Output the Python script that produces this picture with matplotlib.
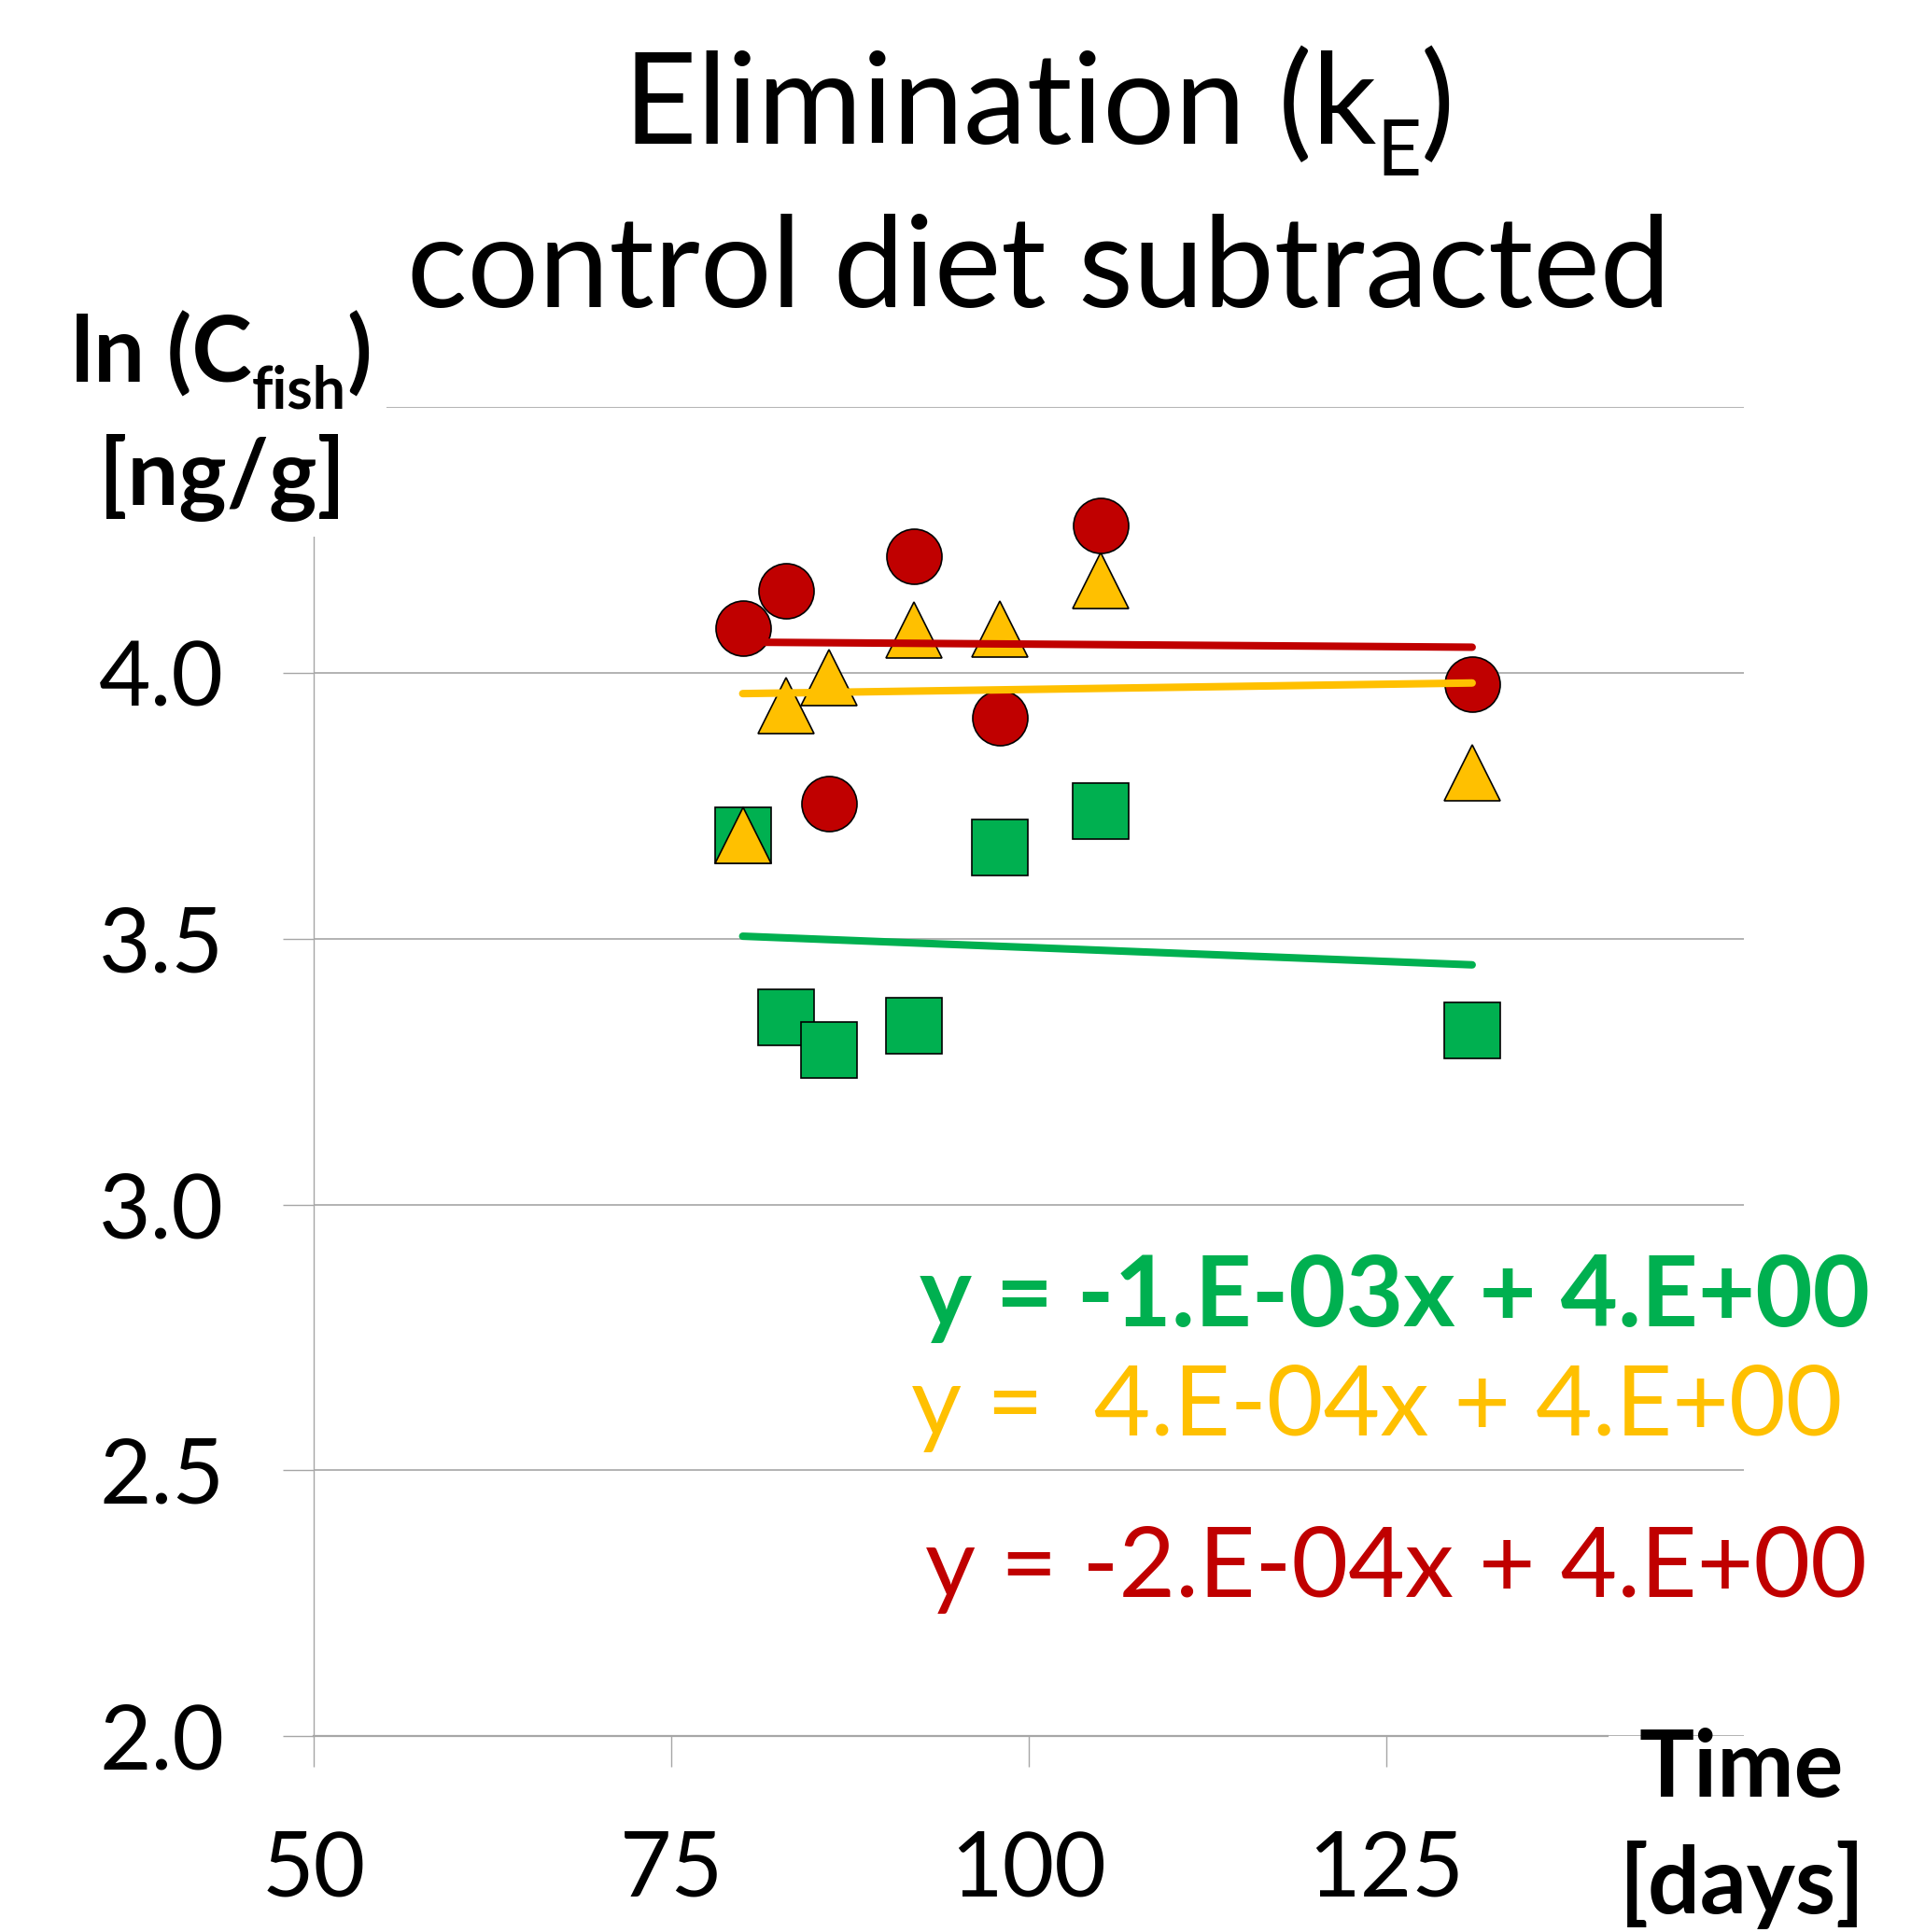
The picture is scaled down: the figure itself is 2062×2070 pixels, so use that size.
import numpy as np
import matplotlib
matplotlib.use("Agg")
import matplotlib.pyplot as plt
from matplotlib.patches import Rectangle

# ---------------- data ----------------
days = [80, 83, 86, 92, 98, 105, 131]
ln_c_green = [3.694, 3.352, 3.291, 3.337, 3.671, 3.740, 3.327]
ln_c_yellow = [3.695, 3.938, 3.991, 4.081, 4.082, 4.173, 3.813]
ln_c_red = [4.085, 4.154, 3.754, 4.219, 3.915, 4.278, 3.979]

eq_green = "y = -1.E-03x + 4.E+00"
eq_yellow = "y =  4.E-04x + 4.E+00"
eq_red = "y = -2.E-04x + 4.E+00"

x_ticks = [50, 75, 100, 125]
y_ticks = [2.0, 2.5, 3.0, 3.5, 4.0, 4.5]
y_tick_labels = ["2.0", "2.5", "3.0", "3.5", "4.0", ""]

title_line1 = ["Elimination (k", "E", ")"]
title_line2 = "control diet subtracted"
ylabel_line1 = ["ln (C", "fish", ")"]
ylabel_line2 = "[ng/g]"
xlabel_lines = ["Time", "[days]"]

# ---------------- style ----------------
plt.rcParams["font.family"] = ["Lato", "DejaVu Sans"]

GREEN = "#00B050"
YELLOW = "#FFC000"
RED = "#C00000"
GRID = "#a6a6a6"

W, H = 2062, 2070
fig = plt.figure(figsize=(W / 100, H / 100), dpi=100)
renderer = fig.canvas.get_renderer()

ax = fig.add_axes([336 / W, 1 - 1860.2 / H, (1868 - 336) / W, (1860.2 - 436.2) / H])
ax.set_xlim(50, 150)
ax.set_ylim(2.0, 4.5)

ax.set_xticks(x_ticks)
ax.set_xticklabels([str(t) for t in x_ticks])
ax.set_yticks(y_ticks)
ax.set_yticklabels(y_tick_labels)
ax.yaxis.grid(True, color=GRID, lw=1.2)
ax.set_axisbelow(True)

for s in ("top", "right"):
    ax.spines[s].set_visible(False)
ax.spines["left"].set_color(GRID)
ax.spines["left"].set_linewidth(1.0)
ax.spines["left"].set_bounds(2.0, 4.256)
ax.spines["bottom"].set_color(GRID)
ax.spines["bottom"].set_linewidth(1.6)
ax.spines["bottom"].set_bounds(50, 140.5)

ax.tick_params(axis="y", direction="out", length=24, width=1.0, color=GRID,
               pad=45, labelsize=69)
ax.tick_params(axis="x", direction="out", length=24, width=1.0, color=GRID,
               pad=48, labelsize=69)

MS = 42.5
ax.plot(days, ln_c_green, ls="none", marker="s", ms=MS, mfc=GREEN, mec="black",
        mew=1.2, zorder=3)
ax.plot(days, ln_c_yellow, ls="none", marker="^", ms=MS, mfc=YELLOW, mec="black",
        mew=1.2, zorder=3.1)
ax.plot(days, ln_c_red, ls="none", marker="o", ms=MS, mfc=RED, mec="black",
        mew=1.2, zorder=3.2)

for yv, col in ((ln_c_red, RED), (ln_c_yellow, YELLOW), (ln_c_green, GREEN)):
    k, b = np.polyfit(days, yv, 1)
    xs = np.array([min(days), max(days)], dtype=float)
    ax.plot(xs, k * xs + b, color=col, lw=5.8, solid_capstyle="round", zorder=5)

# white background of the y label (covers axis top, as in the original)
fig.add_artist(Rectangle((0, 1 - 575 / H), 414 / W, 575 / H, transform=fig.transFigure,
                         facecolor="white", edgecolor="none", zorder=1))


def compose(xc_px, base_px, parts, sizes, shifts, **kw):
    """Lay out text pieces (main / subscript / main) centred at xc_px."""
    objs = []
    widths = []
    for s, fs in zip(parts, sizes):
        t = fig.text(0, 0, s, fontsize=fs, ha="left", va="baseline", **kw)
        widths.append(t.get_window_extent(renderer).width)
        objs.append(t)
    x = xc_px - sum(widths) / 2
    for t, w, dy in zip(objs, widths, shifts):
        t.set_position((x / W, 1 - (base_px + dy) / H))
        x += w


# titles / labels
compose(1113, 154, title_line1, [98, 60, 98], [0, 34, 0])
fig.text(1113 / W, 1 - 329 / H, title_line2, ha="center", va="baseline", fontsize=97.3)

compose(237, 410, ylabel_line1, [70, 45, 70], [0, 27, 0], fontweight="bold")
fig.text(238 / W, 1 - 541 / H, ylabel_line2, ha="center", va="baseline",
         fontsize=70, fontweight="bold")

fig.text(1865 / W, 1 - 1925 / H, xlabel_lines[0], ha="center", va="baseline",
         fontsize=71, fontweight="bold")
fig.text(1866 / W, 1 - 2050 / H, xlabel_lines[1], ha="center", va="baseline",
         fontsize=71, fontweight="bold")

fig.text(985 / W, 1 - 1421 / H, eq_green, ha="left", va="baseline", fontsize=76.3,
         fontweight="bold", color=GREEN)
fig.text(976 / W, 1 - 1538 / H, eq_yellow, ha="left", va="baseline", fontsize=75.5,
         color=YELLOW)
fig.text(991 / W, 1 - 1711 / H, eq_red, ha="left", va="baseline", fontsize=75.4,
         color=RED)

fig.savefig("out.png", dpi=100, facecolor="white")
